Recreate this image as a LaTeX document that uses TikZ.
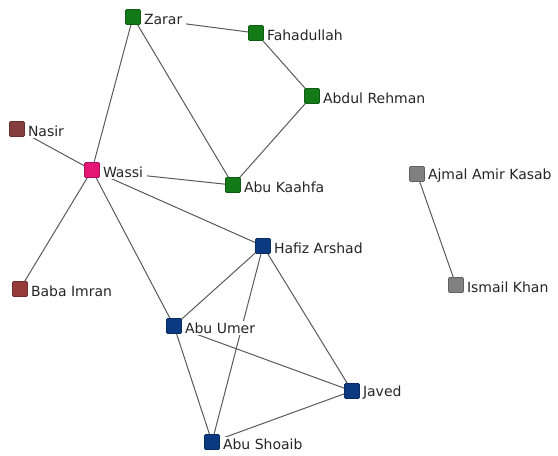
\documentclass[tikz,border=0pt]{standalone}
\usepackage{fontspec}
\setmainfont{DejaVu Sans}
\usetikzlibrary{backgrounds}
\definecolor{cellgreen}{RGB}{20,122,24}
\definecolor{leadpink}{RGB}{228,22,118}
\definecolor{handbrown}{RGB}{132,62,62}
\definecolor{handred}{RGB}{150,58,58}
\definecolor{cellblue}{RGB}{12,58,128}
\definecolor{loneGray}{RGB}{128,128,128}
\definecolor{linkgray}{RGB}{90,90,90}
\tikzset{
  member/.style={rectangle, minimum size=15pt, inner sep=0pt, rounded corners=1pt,
    fill=#1, draw=#1!75!black, line width=0.6pt},
  lbl/.style={fill=white, inner xsep=3.5pt, inner ysep=1.5pt, label distance=-0.5pt,
    yshift=-2pt, font=\fontsize{14}{16}\selectfont, text=black!85},
  link/.style={draw=linkgray, line width=1pt}
}
\begin{document}
\begin{tikzpicture}[x=1pt,y=-1pt]
\path[use as bounding box] (0,0) rectangle (558,456);
% people, placed by hand
\node[member=cellgreen,  label={[lbl]right:Zarar}]            (zarar)  at (133,17)  {};
\node[member=cellgreen,  label={[lbl]right:Fahadullah}]       (fahad)  at (256,33)  {};
\node[member=cellgreen,  label={[lbl]right:Abdul Rehman}]     (abdul)  at (312,96)  {};
\node[member=handbrown,  label={[lbl]right:Nasir}]            (nasir)  at (17,129)  {};
\node[member=leadpink,   label={[lbl]right:Wassi}]            (wassi)  at (92,170)  {};
\node[member=cellgreen,  label={[lbl]right:Abu Kaahfa}]       (kaahfa) at (233,185) {};
\node[member=loneGray,   label={[lbl]right:Ajmal Amir Kasab}] (ajmal)  at (417,174) {};
\node[member=cellblue,   label={[lbl]right:Hafiz Arshad}]     (hafiz)  at (263,246) {};
\node[member=loneGray,   label={[lbl]right:Ismail Khan}]      (ismail) at (456,285) {};
\node[member=handred,    label={[lbl]right:Baba Imran}]       (baba)   at (20,289)  {};
\node[member=cellblue,   label={[lbl]right:Abu Umer}]         (umer)   at (174,326) {};
\node[member=cellblue,   label={[lbl]right:Javed}]            (javed)  at (352,391) {};
\node[member=cellblue,   label={[lbl]right:Abu Shoaib}]       (shoaib) at (212,442) {};
% ties between people, kept behind the boxes and their names
\begin{scope}[on background layer]
\draw[link] (zarar.center) -- (fahad.center);
\draw[link] (fahad.center) -- (abdul.center);
\draw[link] (abdul.center) -- (kaahfa.center);
\draw[link] (zarar.center) -- (kaahfa.center);
\draw[link] (zarar.center) -- (wassi.center);
\draw[link] (wassi.center) -- (kaahfa.center);
\draw[link] (nasir.center) -- (wassi.center);
\draw[link] (wassi.center) -- (baba.center);
\draw[link] (wassi.center) -- (umer.center);
\draw[link] (wassi.center) -- (hafiz.center);
\draw[link] (hafiz.center) -- (umer.center);
\draw[link] (hafiz.center) -- (shoaib.center);
\draw[link] (hafiz.center) -- (javed.center);
\draw[link] (umer.center) -- (javed.center);
\draw[link] (umer.center) -- (shoaib.center);
\draw[link] (shoaib.center) -- (javed.center);
\draw[link] (ajmal.center) -- (ismail.center);
\end{scope}
\end{tikzpicture}
\end{document}
